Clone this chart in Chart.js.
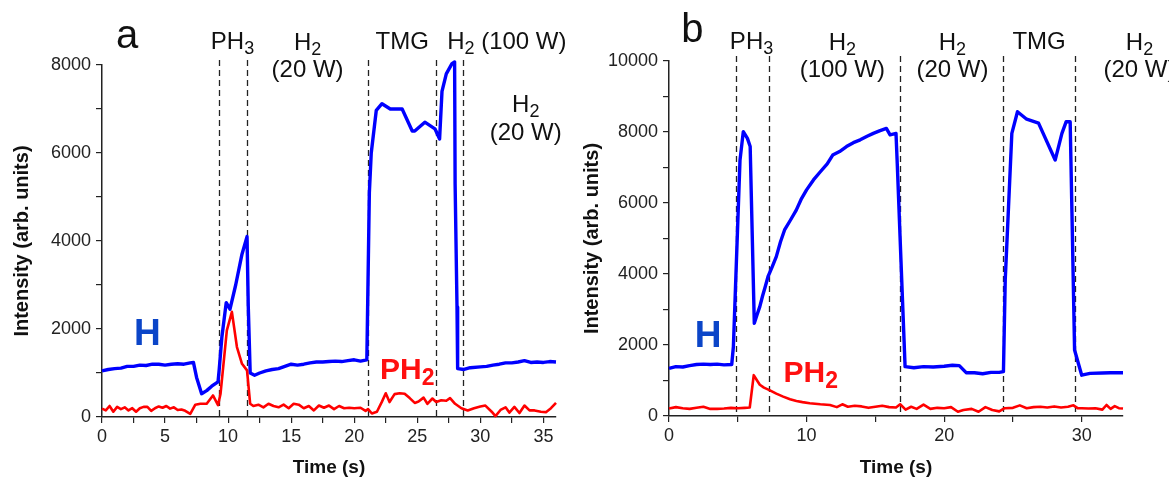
<!DOCTYPE html>
<html>
<head>
<meta charset="utf-8">
<script src="https://cdn.jsdelivr.net/npm/chart.js@4.4.1/dist/chart.umd.min.js"></script>
<style>
  body { margin: 0; background: #fff; }
  .panel { position: absolute; top: 0; }
</style>
</head>
<body>
<div class="panel" style="left:0"><canvas id="chartA" width="580" height="483"></canvas></div>
<div class="panel" style="left:580px"><canvas id="chartB" width="589" height="483"></canvas></div>
<script>
// ---- panel a : 20 W / 100 W sequence ----
const timeHA = [0, 0.5, 1, 1.5, 2, 2.5, 3, 3.5, 4, 4.5, 5, 5.5, 6, 6.5, 7, 7.25, 7.5, 7.9, 8.3, 8.7, 9.2, 9.3, 9.5,
  9.85, 10.15, 10.6, 11.1, 11.5, 11.6, 11.75, 12.1, 12.5, 13, 13.5, 14, 14.5, 15, 15.5, 16, 16.5, 17, 17.5, 18,
  18.5, 19, 19.5, 20, 20.5, 21.0, 21.2, 21.35, 21.75, 22.2, 22.86, 23.8, 24.6, 24.8, 25.6, 26.4, 26.77, 26.96,
  27.3, 27.75, 27.96, 28.0, 28.15, 28.2, 28.7, 29.2, 30, 30.5, 31, 31.5, 32, 32.5, 33, 33.5, 34, 34.5, 35, 35.5, 36];
const intensityHA = [1050, 1080, 1100, 1110, 1150, 1150, 1180, 1170, 1200, 1200, 1180, 1200, 1210, 1200, 1230, 1240,
  900, 530, 600, 700, 800, 1100, 1800, 2600, 2450, 3000, 3700, 4100, 2500, 1000, 950, 1000, 1050, 1080, 1100, 1150,
  1200, 1180, 1200, 1230, 1250, 1250, 1260, 1270, 1260, 1280, 1300, 1270, 1300, 5100, 6000, 6970, 7120, 7000, 7000,
  6500, 6500, 6700, 6550, 6320, 7400, 7800, 8030, 8070, 5300, 2500, 1100, 1080, 1120, 1140, 1150, 1180, 1200, 1230,
  1230, 1250, 1280, 1240, 1250, 1240, 1260, 1250];

const timePA = [0, 0.3, 0.6, 0.9, 1.2, 1.5, 1.8, 2.1, 2.4, 2.7, 3.0, 3.3, 3.6, 3.9, 4.2, 4.5, 4.8, 5.1, 5.4, 5.7, 6.0,
  6.3, 6.6, 7.0, 7.4, 7.8, 8.3, 8.8, 9.2, 9.4, 9.9, 10.3, 10.7, 11.1, 11.5, 11.75, 12.0, 12.4, 12.8, 13.2, 13.6, 14.0,
  14.4, 14.8, 15.2, 15.6, 16.0, 16.4, 16.8, 17.2, 17.6, 18.0, 18.4, 18.8, 19.2, 19.6, 20.0, 20.5, 20.9, 21.1, 21.4,
  21.8, 22.2, 22.5, 22.8, 23.2, 23.6, 24.0, 24.4, 24.8, 25.1, 25.5, 25.8, 26.2, 26.5, 26.9, 27.3, 27.6, 28.0, 28.5,
  29.0, 29.5, 30.0, 30.4, 30.9, 31.2, 31.6, 32.0, 32.3, 32.7, 33.1, 33.5, 33.9, 34.3, 34.8, 35.2, 35.6, 36];
const intensityPA = [190, 150, 250, 120, 230, 180, 220, 150, 200, 120, 200, 230, 230, 140, 200, 240, 210, 250, 190,
  220, 160, 170, 140, 70, 280, 300, 300, 490, 270, 530, 1970, 2390, 1590, 1210, 1060, 300, 250, 280, 220, 300, 250,
  220, 280, 200, 300, 280, 200, 250, 150, 260, 210, 260, 180, 250, 200, 210, 200, 210, 140, 180, 80, 120, 350, 540,
  340, 520, 540, 530, 430, 320, 350, 440, 300, 420, 340, 380, 370, 430, 300, 200, 150, 200, 240, 260, 120, 20, 160,
  220, 100, 230, 90, 260, 150, 150, 120, 110, 200, 320];

const phaseLinesA = [9.26, 11.53, 21.1, 26.5, 28.6];

// ---- panel b : 100 W / 20 W sequence ----
const timeHB = [0, 0.5, 1, 1.5, 2, 2.5, 3, 3.5, 4, 4.56, 4.68, 5.16, 5.4, 5.7, 5.9, 6.2, 6.4, 6.6, 6.8, 7.0, 7.2,
  7.5, 7.8, 8.1, 8.4, 8.8, 9.25, 9.6, 10.0, 10.5, 11.0, 11.5, 11.9, 12.4, 12.9, 13.4, 13.9, 14.4, 14.85, 15.3, 15.8,
  16.07, 16.5, 16.6, 16.84, 17.16, 17.8, 18.5, 19.2, 20.0, 20.6, 21.1, 21.6, 22.2, 22.8, 23.4, 24.0, 24.31, 24.44,
  24.68, 24.92, 25.33, 26.0, 26.86, 28.07, 28.56, 28.87, 29.16, 29.29, 29.48, 30.0, 30.6, 31.5, 32.07, 33];
const intensityHB = [1340, 1390, 1380, 1420, 1450, 1460, 1450, 1460, 1440, 1450, 1950, 7200, 8010, 7820, 7590, 2610,
  2850, 3080, 3380, 3650, 3930, 4200, 4490, 4900, 5240, 5500, 5800, 6100, 6370, 6650, 6880, 7100, 7350, 7450, 7590,
  7700, 7780, 7880, 7960, 8030, 8100, 7920, 7960, 7020, 4590, 1390, 1360, 1390, 1380, 1400, 1430, 1420, 1220, 1220,
  1190, 1230, 1230, 1250, 3830, 5900, 7960, 8570, 8360, 8250, 7210, 7960, 8290, 8290, 5710, 1860, 1150, 1200, 1210,
  1220, 1220];

const timePB = [0, 0.5, 1, 1.5, 2, 2.5, 3, 3.5, 4, 4.5, 5, 5.5, 5.87, 6.16, 6.4, 6.6, 6.9, 7.3, 7.8, 8.3, 8.8, 9.26,
  9.7, 10.23, 11.0, 11.7, 12.2, 12.6, 13, 13.5, 14, 14.5, 15, 15.5, 16, 16.5, 16.8, 17.2, 17.6, 18, 18.5, 19, 19.5,
  20, 20.5, 21, 21.4, 22, 22.5, 23, 23.5, 24, 24.4, 25, 25.5, 26, 26.5, 27, 27.5, 28, 28.5, 29, 29.4, 29.7, 30, 30.5,
  31, 31.5, 31.8, 32.1, 32.4, 32.7, 33];
const intensityPB = [210, 250, 220, 200, 230, 260, 200, 200, 210, 230, 220, 230, 240, 1150, 1000, 880, 800, 730, 630,
  545, 470, 420, 390, 360, 330, 310, 250, 330, 260, 290, 270, 230, 260, 290, 250, 240, 330, 180, 260, 200, 320, 200,
  230, 220, 250, 120, 170, 200, 120, 250, 170, 130, 220, 230, 300, 220, 250, 260, 240, 270, 240, 260, 300, 220, 220,
  210, 220, 180, 310, 200, 280, 220, 210];

const phaseLinesB = [4.9, 7.27, 16.8, 24.3, 29.5];

const FONT = '"Liberation Sans", Arial, sans-serif';

// text with '_x' written as subscript x, centred on cx, baseline at by
function drawChem(ctx, text, cx, by, size, weight, color) {
  const parts = [];
  for (let i = 0; i < text.length; i++) {
    if (text[i] === '_') { parts.push({ s: text[i + 1], sub: true }); i++; }
    else parts.push({ s: text[i], sub: false });
  }
  const big = `${weight} ${size}px ${FONT}`;
  const small = `${weight} ${Math.round(size * 0.75)}px ${FONT}`;
  let total = 0;
  parts.forEach(p => { ctx.font = p.sub ? small : big; p.w = ctx.measureText(p.s).width; total += p.w; });
  let x = cx - total / 2;
  ctx.fillStyle = color;
  ctx.textAlign = 'left';
  ctx.textBaseline = 'alphabetic';
  parts.forEach(p => {
    ctx.font = p.sub ? small : big;
    ctx.fillText(p.s, x, p.sub ? by + size * 0.2 : by);
    x += p.w;
  });
}

const panelDecor = {
  id: 'panelDecor',
  beforeDatasetsDraw(chart, args, opts) {
    const { ctx, chartArea, scales: { x } } = chart;
    ctx.save();
    ctx.strokeStyle = '#222';
    ctx.lineWidth = 1.3;
    ctx.setLineDash([6, 4]);
    opts.phaseLines.forEach(t => {
      const px = Math.round(x.getPixelForValue(t)) + 0.5;
      ctx.beginPath();
      ctx.moveTo(px, chartArea.top - 5);
      ctx.lineTo(px, chartArea.bottom);
      ctx.stroke();
    });
    ctx.restore();
  },
  afterDatasetsDraw(chart, args, opts) {
    const { ctx, scales: { x, y } } = chart;
    ctx.save();
    drawChem(ctx, opts.letter.text, x.getPixelForValue(opts.letter.t), opts.letter.by, 40, 'normal', '#111');
    opts.headers.forEach(h => drawChem(ctx, h.text, x.getPixelForValue(h.t), h.by, 24, 'normal', '#111'));
    opts.tags.forEach(g => drawChem(ctx, g.text, x.getPixelForValue(g.t), y.getPixelForValue(g.v), g.size, 'bold', g.color));
    ctx.restore();
  }
};

function series(times, values, color, width) {
  return {
    data: times.map((t, i) => ({ x: t, y: values[i] })),
    borderColor: color,
    borderWidth: width,
    borderJoinStyle: 'round',
    pointRadius: 0,
    showLine: true,
    tension: 0,
    clip: false
  };
}

function axisStyle() {
  return {
    grid: { drawOnChartArea: false, drawTicks: true, tickLength: 6, color: '#222', lineWidth: 1.2 },
    border: { display: true, color: '#222', width: 1.5 },
  };
}

function makePanel(id, cfg) {
  return new Chart(document.getElementById(id), {
    type: 'scatter',
    data: { datasets: [series(cfg.timeP, cfg.valP, '#ff0000', 2.6), series(cfg.timeH, cfg.valH, '#0000ff', 3.4)] },
    plugins: [panelDecor],
    options: {
      responsive: false,
      animation: false,
      devicePixelRatio: 1,
      layout: { padding: { left: 0, right: cfg.padRight, top: cfg.padTop, bottom: 0 } },
      plugins: {
        legend: { display: false },
        tooltip: { enabled: false },
        panelDecor: cfg.decor
      },
      scales: {
        x: {
          type: 'linear',
          min: 0,
          max: cfg.xMax,
          ...axisStyle(),
          afterFit: s => { s.height = cfg.xAxisHeight; },
          ticks: {
            stepSize: cfg.xStep,
            includeBounds: false,
            autoSkip: false,
            maxRotation: 0,
            padding: 3,
            color: '#222',
            font: { family: FONT, size: 18 },
            callback: v => (v % cfg.xLabelEvery === 0 ? v : '')
          },
          title: { display: true, text: 'Time (s)', color: '#111', font: { family: FONT, size: 19, weight: 'bold' }, padding: { top: 0, bottom: 4 } }
        },
        y: {
          min: 0,
          max: cfg.yMax,
          ...axisStyle(),
          afterFit: s => { s.width = cfg.yAxisWidth; },
          ticks: {
            stepSize: 1000,
            autoSkip: false,
            padding: 5,
            color: '#222',
            font: { family: FONT, size: 18 },
            callback: v => (v % 2000 === 0 ? v : '')
          },
          title: { display: true, text: 'Intensity (arb. units)', color: '#111', font: { family: FONT, size: 20, weight: 'bold' }, padding: { top: cfg.yTitlePad, bottom: 0 } }
        }
      }
    }
  });
}

makePanel('chartA', {
  timeH: timeHA, valH: intensityHA, timeP: timePA, valP: intensityPA,
  xMax: 36, xStep: 2.5, xLabelEvery: 5, yMax: 8000,
  padRight: 24, padTop: 65, xAxisHeight: 66, yAxisWidth: 102, yTitlePad: 10,
  decor: {
    phaseLines: phaseLinesA,
    letter: { text: 'a', t: 2.0, by: 48 },
    headers: [
      { text: 'PH_3', t: 10.35, by: 49 },
      { text: 'H_2', t: 16.3, by: 50 },
      { text: '(20 W)', t: 16.3, by: 77 },
      { text: 'TMG', t: 23.8, by: 49 },
      { text: 'H_2 (100 W)', t: 32.1, by: 49 },
      { text: 'H_2', t: 33.6, by: 112 },
      { text: '(20 W)', t: 33.6, by: 140 }
    ],
    tags: [
      { text: 'H', t: 3.6, v: 1630, size: 37, color: '#0b45c8' },
      { text: 'PH_2', t: 24.2, v: 873, size: 30, color: '#ff1010' }
    ]
  }
});

makePanel('chartB', {
  timeH: timeHB, valH: intensityHB, timeP: timePB, valP: intensityPB,
  xMax: 33, xStep: 5, xLabelEvery: 10, yMax: 10000,
  padRight: 46, padTop: 61, xAxisHeight: 67, yAxisWidth: 89, yTitlePad: 0,
  decor: {
    phaseLines: phaseLinesB,
    letter: { text: 'b', t: 1.7, by: 42 },
    headers: [
      { text: 'PH_3', t: 6.0, by: 49 },
      { text: 'H_2', t: 12.6, by: 50 },
      { text: '(100 W)', t: 12.6, by: 77 },
      { text: 'H_2', t: 20.6, by: 50 },
      { text: '(20 W)', t: 20.6, by: 77 },
      { text: 'TMG', t: 26.9, by: 49 },
      { text: 'H_2', t: 34.2, by: 50 },
      { text: '(20 W)', t: 34.2, by: 77 }
    ],
    tags: [
      { text: 'H', t: 2.84, v: 1952, size: 37, color: '#0b45c8' },
      { text: 'PH_2', t: 10.3, v: 966, size: 30, color: '#ff1010' }
    ]
  }
});
</script>
</body>
</html>
